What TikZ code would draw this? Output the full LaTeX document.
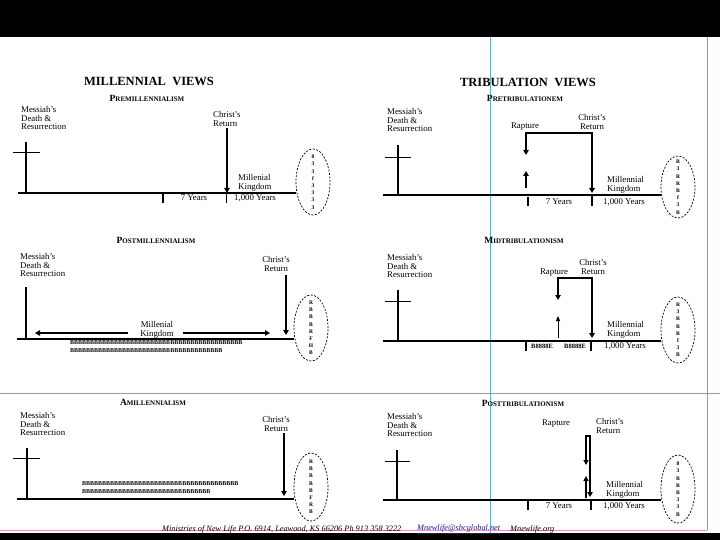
\documentclass[tikz,border=0pt]{standalone}
\usepackage{fontspec}
\setmainfont{Liberation Serif}
\usetikzlibrary{arrows.meta,shapes.geometric}
\definecolor{guidecyan}{RGB}{40,200,220}
\definecolor{guidepurple}{RGB}{160,140,200}
\definecolor{guidepink}{RGB}{225,150,200}
\definecolor{linkblue}{RGB}{20,20,170}
\newcommand\fakesc[2]{{\fontsize{9.5}{9.5}\selectfont #1}{\fontsize{7}{7}\selectfont #2}}
\tikzset{
  lbl/.style={font=\fontsize{8.8}{8.8}\selectfont, inner sep=0pt, align=left},
  lblc/.style={font=\fontsize{8.8}{8.8}\selectfont, inner sep=0pt, align=center},
  titlebox/.style={font=\fontsize{12.5}{13}\selectfont\bfseries, inner sep=0pt},
  subbox/.style={font=\bfseries, inner sep=0pt},
  axisline/.style={line width=1.3pt},
  crossv/.style={line width=2.2pt},
  crossh/.style={line width=1pt},
  tickthick/.style={line width=2.2pt},
  tickthin/.style={line width=0.9pt},
  bigarrow/.style={line width=2.2pt, -{Triangle[length=5pt,width=5.5pt]}},
  bothtips/.style={line width=2.2pt, {Triangle[length=5pt,width=5.5pt]}-{Triangle[length=5pt,width=5.5pt]}},
  smallarrow/.style={line width=0.9pt, -{Triangle[length=5pt,width=4pt]}},
  ovalbox/.style={draw, dash pattern=on 2pt off 1.5pt, line width=0.7pt, ellipse, minimum width=34pt, inner sep=0pt},
  ovaltext/.style={inner sep=0pt, font=\fontsize{5.5}{7.2}\selectfont\bfseries, align=center},
  garble/.style={font=\fontsize{6}{6}\selectfont\bfseries, inner sep=0pt, anchor=west},
  footer/.style={font=\fontsize{8.3}{8.3}\selectfont\itshape, inner sep=0pt, anchor=west},
  guide/.style={line width=0.8pt}
}
\begin{document}
\begin{tikzpicture}[x=1pt,y=-1pt]
\useasboundingbox (0,0) rectangle (720,540);
\fill[white] (0,0) rectangle (720,540);
% frame bands and guide lines
\fill[black] (0,0) rectangle (720,37);
\fill[black] (0,533) rectangle (720,540);
\draw[guide, guidecyan] (0,393) -- (720,393);
\draw[guide, guidecyan] (490,37) -- (490,533);
\draw[guide, guidepurple] (707,37) -- (707,530);
\draw[guide, guidepink] (0,530) -- (707,530);

% ================= TOP LEFT: Premillennialism
\node[titlebox] (t1) at (149,81) {MILLENNIAL\ \ VIEWS};
\node[subbox] (s1) at (147,98) {\fakesc{P}{REMILLENNIALISM}};
\node[lbl, anchor=north west] (m1) at (21,106) {Messiah's\\Death \&\\Resurrection};
\coordinate (c1t) at (26,142); \coordinate (c1b) at (26,193);
\coordinate (c1l) at (13,153); \coordinate (c1r) at (40,153);
\draw[crossv] (c1t) -- (c1b);
\draw[crossh] (c1l) -- (c1r);
\node[ovalbox, minimum height=66pt] (ov1) at (313,182) {};
\node[ovaltext] (ot1) at (ov1.center) {8\\3\\3\\f\\3\\3\\3\\3};
\coordinate (L1s) at (18,193); \coordinate (L1e) at (296,193);
\draw[axisline] (L1s) -- (L1e);
\coordinate (k1a) at (163,193); \coordinate (k1b) at (163,203);
\draw[tickthick] (k1a) -- (k1b);
\coordinate (k2a) at (226,193); \coordinate (k2b) at (226,203);
\draw[tickthin] (k2a) -- (k2b);
\node[lbl, anchor=north west] (cr1) at (213,111) {Christ's\\Return};
\coordinate (a1s) at (227,128); \coordinate (a1e) at (227,193);
\draw[bigarrow] (a1s) -- (a1e);
\node[lblc] (y7a) at (194,198) {7 Years};
\node[lblc] (y1a) at (255,198) {1,000 Years};
\node[lbl, anchor=north west] (mk1) at (238,174) {Millenial\\Kingdom};

% ================= TOP RIGHT: Pretribulationism
\node[titlebox] (t2) at (528,82) {TRIBULATION\ \ VIEWS};
\node[subbox] (s2) at (525,98) {\fakesc{P}{RETRIBULATIONEM}};
\node[lbl, anchor=north west] (m2) at (387,108) {Messiah's\\Death \&\\Resurrection};
\coordinate (c2t) at (398,145); \coordinate (c2b) at (398,196);
\coordinate (c2l) at (385,158); \coordinate (c2r) at (411,158);
\draw[crossv] (c2t) -- (c2b);
\draw[crossh] (c2l) -- (c2r);
\node[ovalbox, minimum height=62pt] (ov2) at (678,187) {};
\node[ovaltext] (ot2) at (ov2.center) {R\\3\\R\\R\\R\\f\\3\\R};
\coordinate (L2s) at (383,195); \coordinate (L2e) at (661,195);
\draw[axisline] (L2s) -- (L2e);
\node[lblc] (rp2) at (525,127) {Rapture};
\node[lblc, anchor=north] (cr2) at (592,114) {Christ's\\Return};
\coordinate (b2a) at (526,155); \coordinate (b2b) at (526,133);
\coordinate (b2c) at (592,133); \coordinate (b2d) at (592,193);
\draw[bothtips] (b2a) -- (b2b) -- (b2c) -- (b2d);
\coordinate (u2s) at (526,188); \coordinate (u2e) at (526,171);
\draw[bigarrow] (u2s) -- (u2e);
\coordinate (k3a) at (528,197); \coordinate (k3b) at (528,206);
\draw[tickthick] (k3a) -- (k3b);
\coordinate (k4a) at (592,196); \coordinate (k4b) at (592,206);
\draw[tickthick] (k4a) -- (k4b);
\node[lblc] (y7b) at (559,202) {7 Years};
\node[lblc] (y1b) at (624,202) {1,000 Years};
\node[lbl, anchor=north west] (mk2) at (607,176) {Millennial\\Kingdom};

% ================= MIDDLE LEFT: Postmillennialism
\node[subbox] (s3) at (156,240) {\fakesc{P}{OSTMILLENNIALISM}};
\node[lbl, anchor=north west] (m3) at (20,253) {Messiah's\\Death \&\\Resurrection};
\coordinate (c3t) at (26,287); \coordinate (c3b) at (26,340);
\draw[crossv] (c3t) -- (c3b);
\node[ovalbox, minimum height=66pt] (ov3) at (311,328) {};
\node[ovaltext] (ot3) at (ov3.center) {R\\B\\B\\B\\R\\F\\H\\B};
\coordinate (L3s) at (17,339); \coordinate (L3e) at (294,339);
\draw[axisline] (L3s) -- (L3e);
\node[lblc, anchor=north] (cr3) at (276,256) {Christ's\\Return};
\coordinate (a3s) at (286,275); \coordinate (a3e) at (286,335);
\draw[bigarrow] (a3s) -- (a3e);
\node[lblc] (mk3) at (157,330) {Millenial\\Kingdom};
\coordinate (d3a) at (128,333); \coordinate (d3b) at (35,333);
\coordinate (d3c) at (183,333); \coordinate (d3d) at (270,333);
\draw[bigarrow] (d3a) -- (d3b);
\draw[bigarrow] (d3c) -- (d3d);
\node[garble] (g3a) at (70,343) {BBBBBBBBBBBBBBBBBBBBBBBBBBBBBBBBBBBBBBBBBBB};
\node[garble] (g3b) at (70,351) {BBBBBBBBBBBBBBBBBBBBBBBBBBBBBBBBBBBBBB};

% ================= MIDDLE RIGHT: Midtribulationism
\node[subbox] (s4) at (524,240) {\fakesc{M}{IDTRIBULATIONISM}};
\node[lbl, anchor=north west] (m4) at (387,254) {Messiah's\\Death \&\\Resurrection};
\coordinate (c4t) at (398,290); \coordinate (c4b) at (398,342);
\coordinate (c4l) at (385,301); \coordinate (c4r) at (411,301);
\draw[crossv] (c4t) -- (c4b);
\draw[crossh] (c4l) -- (c4r);
\node[ovalbox, minimum height=66pt] (ov4) at (678,330) {};
\node[ovaltext] (ot4) at (ov4.center) {R\\3\\R\\R\\R\\f\\3\\B};
\coordinate (L4s) at (383,341); \coordinate (L4e) at (661,341);
\draw[axisline] (L4s) -- (L4e);
\node[lblc] (rp4) at (554,273) {Rapture};
\node[lblc, anchor=north] (cr4) at (593,259) {Christ's\\Return};
\coordinate (b4a) at (558,300); \coordinate (b4b) at (558,278);
\coordinate (b4c) at (592,278); \coordinate (b4d) at (592,338);
\draw[bothtips] (b4a) -- (b4b) -- (b4c) -- (b4d);
\coordinate (u4s) at (558,338); \coordinate (u4e) at (558,316);
\draw[smallarrow] (u4s) -- (u4e);
\coordinate (k5a) at (526,341); \coordinate (k5b) at (526,351);
\draw[tickthick] (k5a) -- (k5b);
\coordinate (k6a) at (591,341); \coordinate (k6b) at (591,351);
\draw[tickthick] (k6a) -- (k6b);
\node[font=\fontsize{6.5}{6.5}\selectfont\bfseries, inner sep=0pt] (bl4a) at (542,346) {B8888E};
\node[font=\fontsize{6.5}{6.5}\selectfont\bfseries, inner sep=0pt] (bl4b) at (575,346) {B8888E};
\node[lblc] (y1d) at (625,346) {1,000 Years};
\node[lbl, anchor=north west] (mk4) at (607,321) {Millennial\\Kingdom};

% ================= BOTTOM LEFT: Amillennialism
\node[subbox] (s5) at (153,402) {\fakesc{A}{MILLENNIALISM}};
\node[lbl, anchor=north west] (m5) at (20,412) {Messiah's\\Death \&\\Resurrection};
\coordinate (c5t) at (27,448); \coordinate (c5b) at (27,499);
\coordinate (c5l) at (13,458); \coordinate (c5r) at (40,458);
\draw[crossv] (c5t) -- (c5b);
\draw[crossh] (c5l) -- (c5r);
\node[ovalbox, minimum height=68pt] (ov5) at (311,487) {};
\node[ovaltext] (ot5) at (ov5.center) {R\\B\\B\\B\\B\\F\\R\\B};
\coordinate (L5s) at (17,499); \coordinate (L5e) at (294,499);
\draw[axisline] (L5s) -- (L5e);
\node[lblc, anchor=north] (cr5) at (276,416) {Christ's\\Return};
\coordinate (a5s) at (284,433); \coordinate (a5e) at (284,496);
\draw[bigarrow] (a5s) -- (a5e);
\node[garble] (g5a) at (82,484) {BBBBBBBBBBBBBBBBBBBBBBBBBBBBBBBBBBBBBBB};
\node[garble] (g5b) at (82,492) {BBBBBBBBBBBBBBBBBBBBBBBBBBBBBBBB};

% ================= BOTTOM RIGHT: Posttribulationism
\node[subbox] (s6) at (523,403) {\fakesc{P}{OSTTRIBULATIONISM}};
\node[lbl, anchor=north west] (m6) at (387,413) {Messiah's\\Death \&\\Resurrection};
\coordinate (c6t) at (397,450); \coordinate (c6b) at (397,500);
\coordinate (c6l) at (385,461); \coordinate (c6r) at (410,461);
\draw[crossv] (c6t) -- (c6b);
\draw[crossh] (c6l) -- (c6r);
\node[ovalbox, minimum height=68pt] (ov6) at (678,489) {};
\node[ovaltext] (ot6) at (ov6.center) {8\\3\\R\\R\\R\\3\\3\\B};
\coordinate (L6s) at (383,500); \coordinate (L6e) at (661,500);
\draw[axisline] (L6s) -- (L6e);
\node[lblc] (rp6) at (556,424) {Rapture};
\node[lbl, anchor=north west] (cr6) at (596,418) {Christ's\\Return};
\coordinate (b6a) at (586,465); \coordinate (b6b) at (586,436);
\coordinate (b6c) at (590,436); \coordinate (b6d) at (590,497);
\draw[line width=1.2pt, {Triangle[length=5pt,width=5pt]}-{Triangle[length=5pt,width=5.5pt]}] (b6a) -- (b6b) -- (b6c) -- (b6d);
\coordinate (u6s) at (586,498); \coordinate (u6e) at (586,476);
\draw[line width=1.2pt, -{Triangle[length=5pt,width=5pt]}] (u6s) -- (u6e);
\coordinate (k7a) at (528,500); \coordinate (k7b) at (528,510);
\draw[tickthick] (k7a) -- (k7b);
\coordinate (k8a) at (591,500); \coordinate (k8b) at (591,510);
\draw[tickthick] (k8a) -- (k8b);
\node[lblc] (y7f) at (559,506) {7 Years};
\node[lblc] (y1f) at (624,506) {1,000 Years};
\node[lbl, anchor=north west] (mk6) at (606,481) {Millennial\\Kingdom};

% ================= footer
\node[footer] (f1) at (162,529) {Ministries of New Life P.O. 6914, Leawood, KS 66206 Ph 913 358 3222};
\node[footer, text=linkblue] (f2) at (417,529) {\underline{Mnewlife@sbcglobal.net}};
\node[footer] (f3) at (510,529) {Mnewlife.org};
\end{tikzpicture}
\end{document}
